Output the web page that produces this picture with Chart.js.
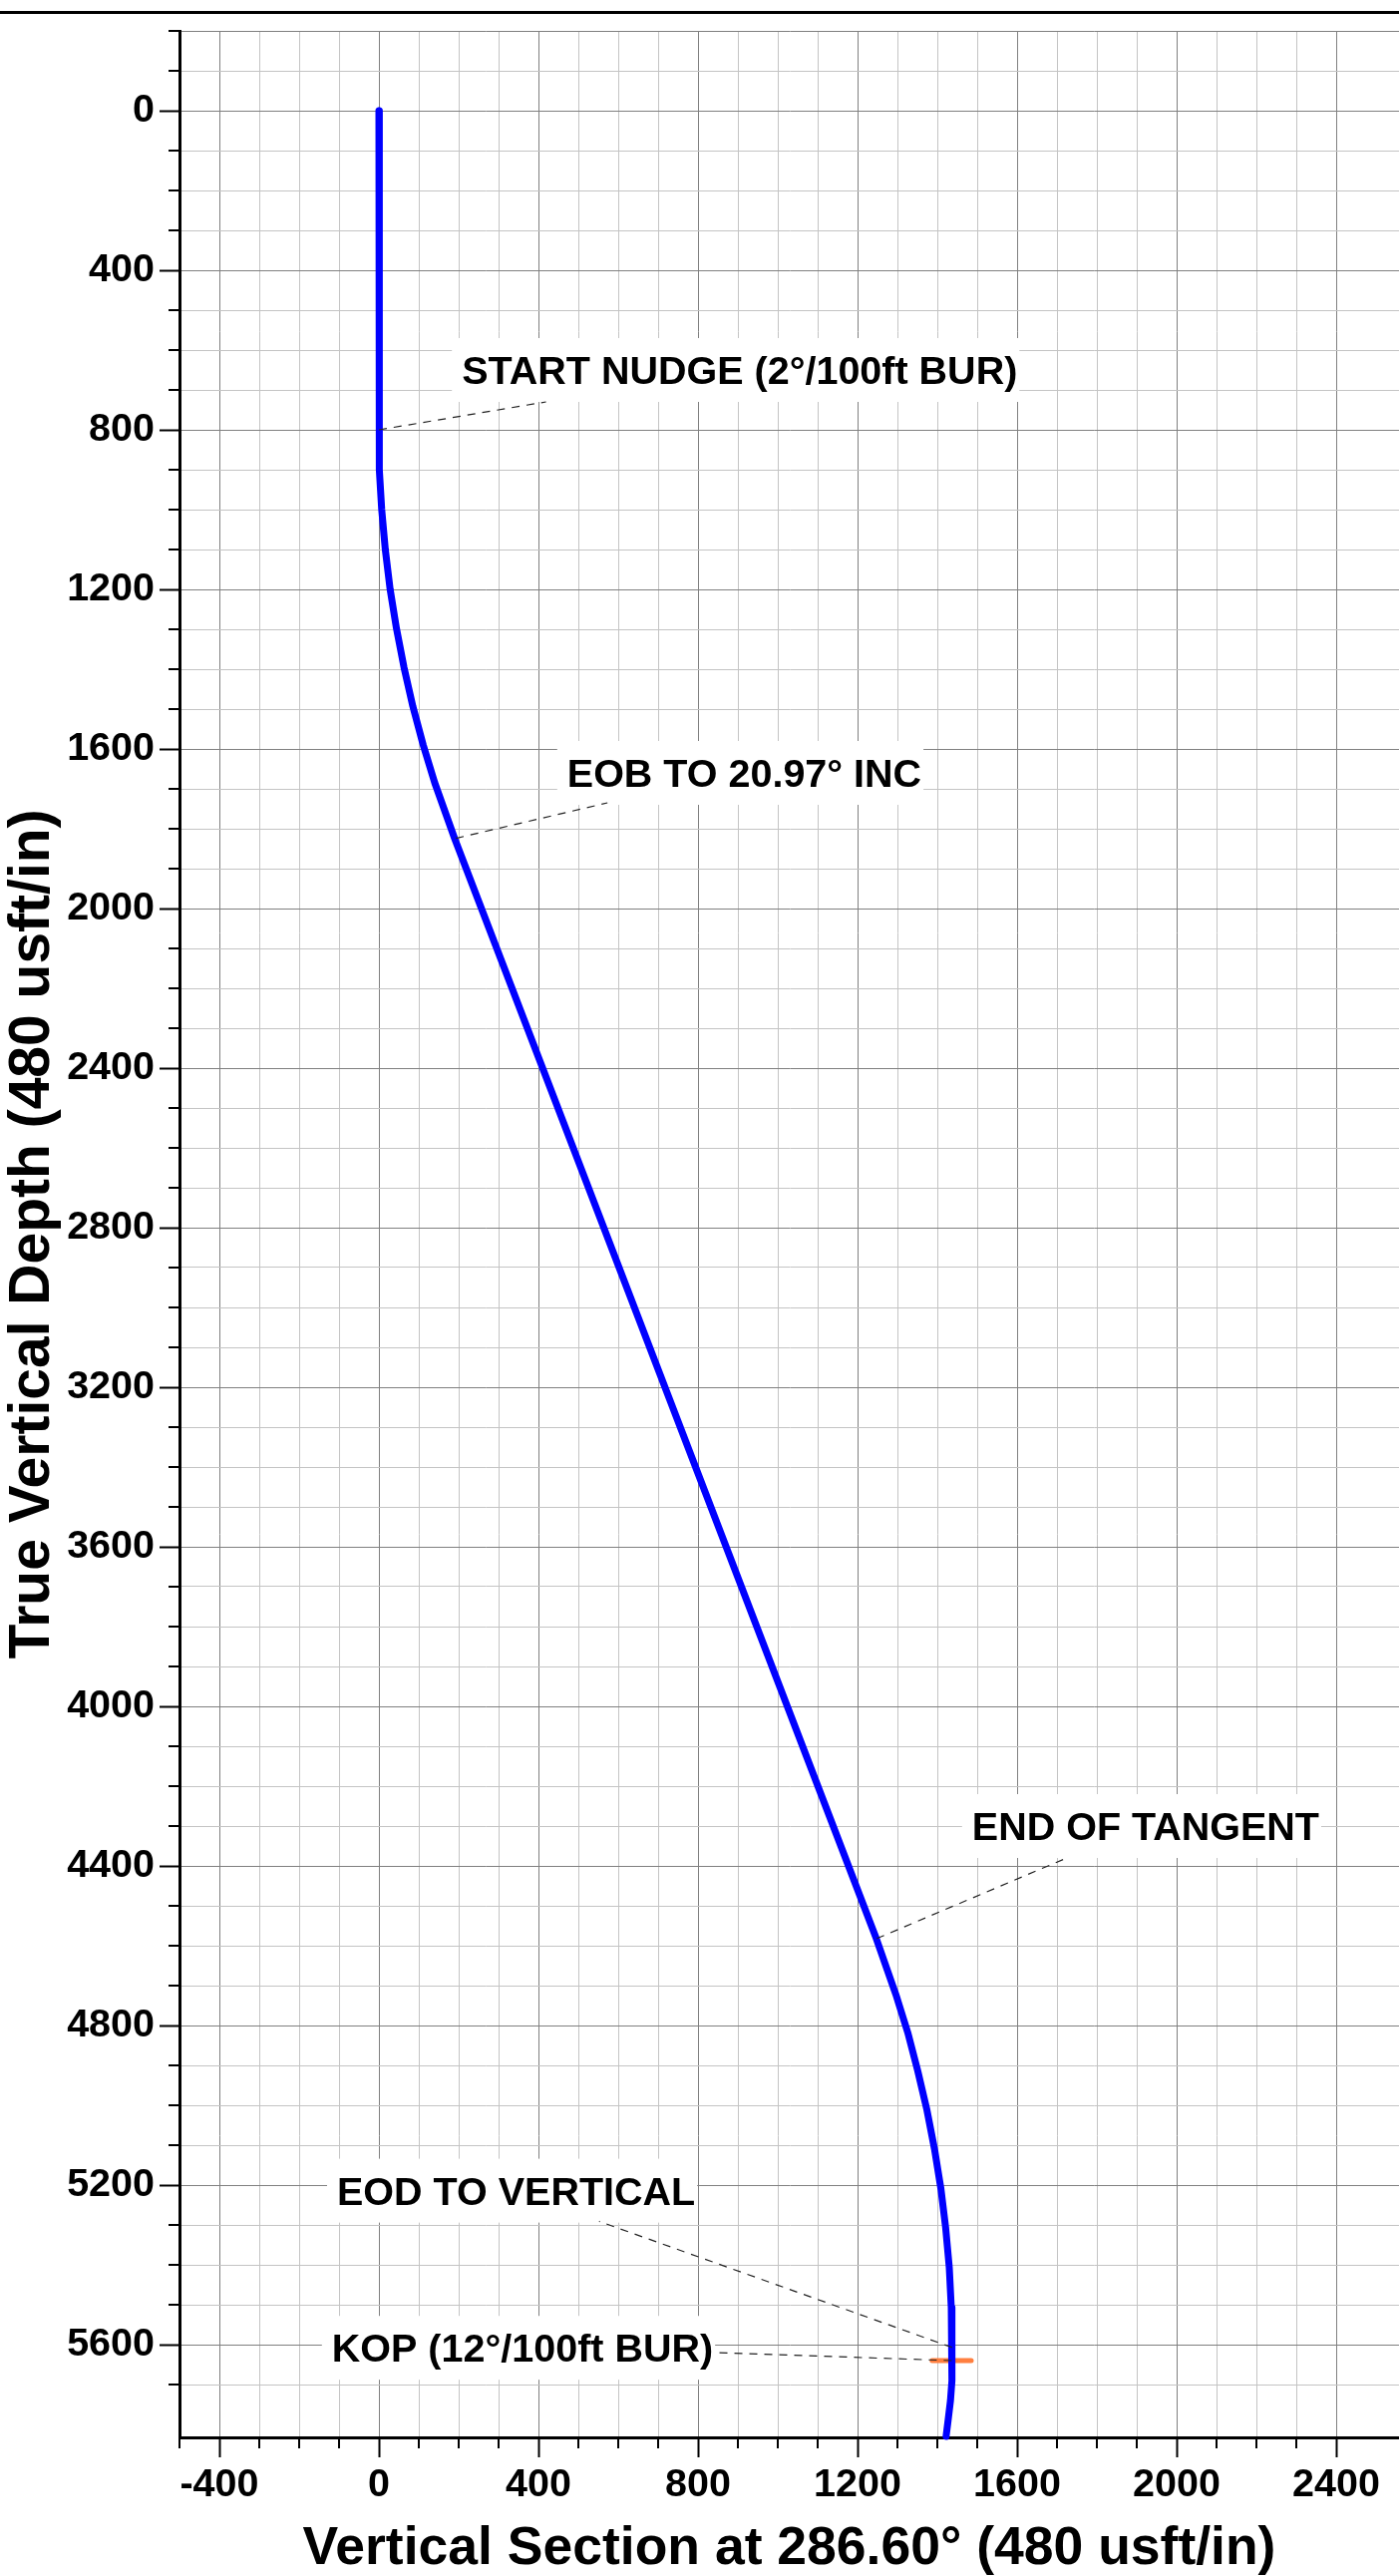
<!DOCTYPE html>
<html>
<head>
<meta charset="utf-8">
<script src="https://cdn.jsdelivr.net/npm/chart.js@4.4.0/dist/chart.umd.min.js"></script>
<style>
  html, body { margin: 0; padding: 0; background: #fff; overflow: hidden; }
  canvas { display: block; }
</style>
</head>
<body>
<canvas id="well-section" width="1403" height="2583"></canvas>
<script>
// well path, vertical section vs true vertical depth (usft)
const wellVS  = [0, 0, 2, 7, 16, 28, 44, 63, 85, 111, 140, 190, 1247, 1296, 1326, 1351, 1374, 1393, 1409, 1421, 1430, 1435, 1437, 1437, 1436, 1433, 1427, 1422];
const wellTVD = [0, 800, 900, 1000, 1100, 1199, 1298, 1396, 1493, 1590, 1685, 1825, 4582, 4722, 4818, 4914, 5012, 5110, 5209, 5308, 5407, 5507, 5607, 5640, 5690, 5740, 5790, 5830];

// KOP marker
const kopMarkVS  = [1387, 1485];
const kopMarkTVD = [5640, 5640];

const xTickLabels = [-400, 0, 400, 800, 1200, 1600, 2000, 2400];
const yTickLabels = [0, 400, 800, 1200, 1600, 2000, 2400, 2800, 3200, 3600, 4000, 4400, 4800, 5200, 5600];

const noteText = ['START NUDGE (2°/100ft BUR)', 'EOB TO 20.97° INC', 'END OF TANGENT', 'EOD TO VERTICAL', 'KOP (12°/100ft BUR)'];
const noteVS   = [0, 193, 1248, 1437, 1436];
const noteTVD  = [800, 1824, 4582, 5607, 5640];

// where each label sits (text left / baseline) and where its leader meets the box
const notePlace = [
  { x: 208,  y: 685,  lx: 419,  ly: 730 },
  { x: 472,  y: 1695, lx: 573,  ly: 1735 },
  { x: 1487, y: 4335, lx: 1727, ly: 4379 },
  { x: -105, y: 5249, lx: 552,  ly: 5291 },
  { x: -118, y: 5643, lx: 841,  ly: 5620 }
];

const FONT = '"Liberation Sans", Arial, sans-serif';
const MINOR = '#c4c4c4';
const MAJOR = '#808080';

const notesPlugin = {
  id: 'wellNotes',
  beforeDraw(chart) {
    const c = chart.ctx;
    c.save();
    c.fillStyle = '#fff';
    c.fillRect(0, 0, chart.width, chart.height);
    c.fillStyle = '#000';
    c.fillRect(0, 11, chart.width, 3);
    c.restore();
  },
  beforeDatasetsDraw(chart) {
    const { ctx: c, scales: { x, y }, chartArea: area } = chart;
    c.save();
    // white boxes behind the labels
    c.font = `bold 39.5px ${FONT}`;
    c.fillStyle = '#fff';
    noteText.forEach((t, i) => {
      const p = notePlace[i];
      const tx = x.getPixelForValue(p.x), ty = y.getPixelForValue(p.y);
      const w = c.measureText(t).width;
      c.fillRect(tx - 10, ty - 46, w + 12, 64);
    });
    // short minor ticks
    c.strokeStyle = '#000';
    c.lineWidth = 2;
    c.beginPath();
    x.ticks.forEach(t => {
      if (xTickLabels.includes(t.value)) return;
      const px = Math.round(x.getPixelForValue(t.value));
      c.moveTo(px, area.bottom);
      c.lineTo(px, area.bottom + 11);
    });
    y.ticks.forEach(t => {
      if (yTickLabels.includes(t.value)) return;
      const py = Math.round(y.getPixelForValue(t.value));
      c.moveTo(area.left, py);
      c.lineTo(area.left - 11, py);
    });
    c.stroke();
    c.restore();
  },
  afterDatasetsDraw(chart) {
    const { ctx: c, scales: { x, y } } = chart;
    c.save();
    c.strokeStyle = '#222';
    c.lineWidth = 1.2;
    c.setLineDash([8, 7]);
    noteText.forEach((t, i) => {
      const p = notePlace[i];
      c.beginPath();
      c.moveTo(x.getPixelForValue(noteVS[i]), y.getPixelForValue(noteTVD[i]));
      c.lineTo(x.getPixelForValue(p.lx), y.getPixelForValue(p.ly));
      c.stroke();
    });
    c.setLineDash([]);
    c.font = `bold 39.5px ${FONT}`;
    c.fillStyle = '#000';
    c.textBaseline = 'alphabetic';
    c.textAlign = 'left';
    noteText.forEach((t, i) => {
      const p = notePlace[i];
      c.fillText(t, x.getPixelForValue(p.x), y.getPixelForValue(p.y));
    });
    c.restore();
  }
};

function keepHundreds(scale) {
  scale.ticks = scale.ticks.filter(t => t.value % 100 === 0);
}

new Chart(document.getElementById('well-section'), {
  type: 'scatter',
  data: {
    datasets: [
      {
        data: wellVS.map((v, i) => ({ x: v, y: wellTVD[i] })),
        showLine: true,
        borderColor: '#0000ff',
        borderWidth: 7,
        borderCapStyle: 'round',
        borderJoinStyle: 'round',
        pointRadius: 0,
        tension: 0,
        clip: false
      },
      {
        data: kopMarkVS.map((v, i) => ({ x: v, y: kopMarkTVD[i] })),
        showLine: true,
        borderColor: '#ff7f3f',
        borderWidth: 5,
        borderCapStyle: 'round',
        pointRadius: 0,
        clip: false
      }
    ]
  },
  options: {
    responsive: false,
    animation: false,
    events: [],
    layout: { padding: { top: 31, right: 0, left: 0, bottom: 0 } },
    plugins: { legend: { display: false }, tooltip: { enabled: false } },
    scales: {
      x: {
        type: 'linear',
        min: -500,
        max: 2557.5,
        afterBuildTicks: keepHundreds,
        afterFit: s => { s.height = 139; },
        ticks: {
          stepSize: 100,
          autoSkip: false,
          maxRotation: 0,
          padding: 4,
          color: '#000',
          font: { family: FONT, size: 39.5, weight: 'bold' },
          callback: v => xTickLabels.includes(v) ? String(v) : ''
        },
        grid: {
          color: c => (c.tick && c.tick.value % 400 === 0) ? MAJOR : MINOR,
          lineWidth: 1,
          drawTicks: true,
          tickLength: 20,
          tickWidth: 2,
          tickColor: c => (c.tick && xTickLabels.includes(c.tick.value)) ? '#000' : 'rgba(0,0,0,0)'
        },
        border: { display: true, color: '#000', width: 3 },
        title: {
          display: true,
          text: 'Vertical Section at 286.60° (480 usft/in)',
          color: '#000',
          font: { family: FONT, size: 53.5, weight: 'bold', lineHeight: 1 },
          padding: { top: 0, bottom: 0 }
        }
      },
      y: {
        type: 'linear',
        reverse: true,
        min: -200,
        max: 5832.5,
        afterBuildTicks: keepHundreds,
        afterFit: s => { s.width = 180; },
        ticks: {
          stepSize: 100,
          autoSkip: false,
          padding: 5,
          color: '#000',
          font: { family: FONT, size: 39.5, weight: 'bold' },
          callback: v => yTickLabels.includes(v) ? String(v) : ''
        },
        grid: {
          color: c => (c.tick && (c.tick.value % 400 === 0 || c.tick.value === -200)) ? MAJOR : MINOR,
          lineWidth: 1,
          drawTicks: true,
          tickLength: 20,
          tickWidth: 2,
          tickColor: c => (c.tick && yTickLabels.includes(c.tick.value)) ? '#000' : 'rgba(0,0,0,0)'
        },
        border: { display: true, color: '#000', width: 3 },
        title: {
          display: true,
          text: 'True Vertical Depth (480 usft/in)',
          color: '#000',
          font: { family: FONT, size: 57, weight: 'bold', lineHeight: 1 },
          padding: { top: 5, bottom: 0 }
        }
      }
    }
  },
  plugins: [notesPlugin]
});
</script>
</body>
</html>
